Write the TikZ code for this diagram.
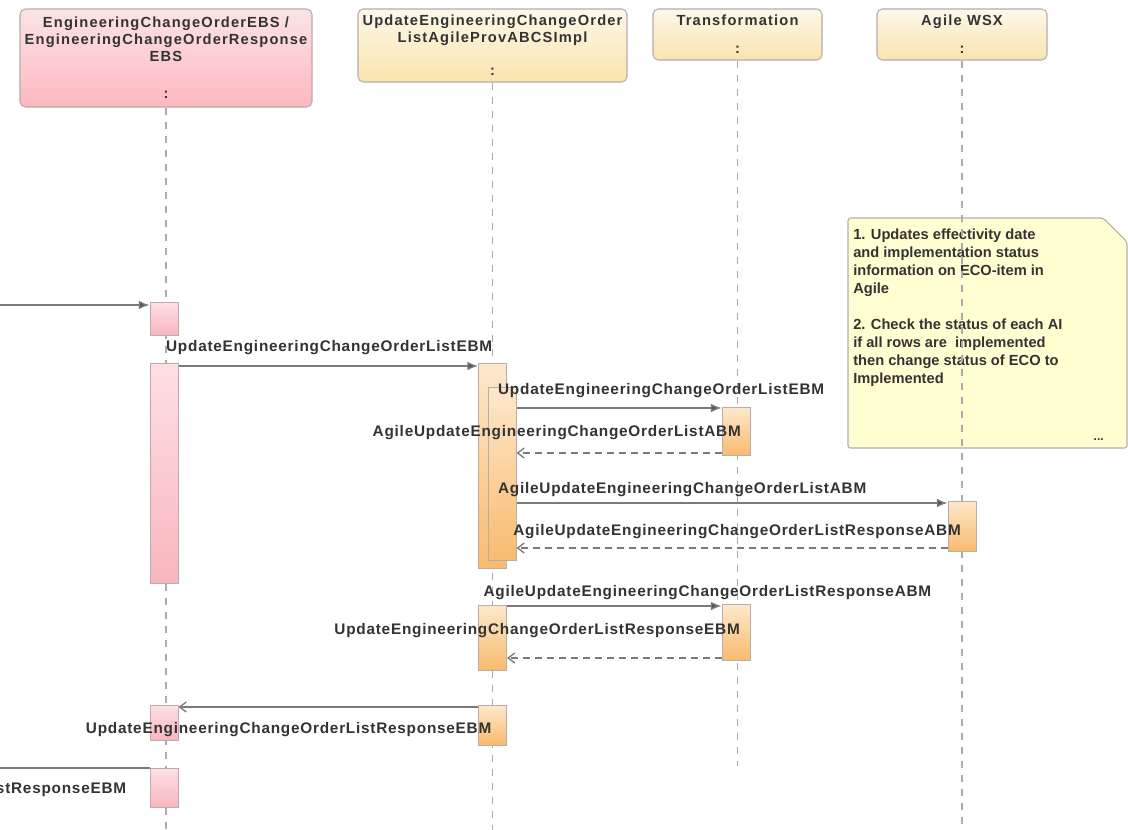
\documentclass[tikz,border=0pt]{standalone}
\usepackage{fontspec}
\setmainfont{Liberation Sans}
\newfontfamily\hdrfont{Liberation Sans}[LetterSpace=8]
\newfontfamily\msgfont{Liberation Sans}[LetterSpace=5]
\usetikzlibrary{arrows.meta,positioning}

\definecolor{pinktop}{HTML}{FBE4E4}
\definecolor{pinkbot}{HTML}{FDB7C0}
\definecolor{yeltop}{HTML}{FDF8EA}
\definecolor{yelbot}{HTML}{FAE4AE}
\definecolor{pacttop}{HTML}{FDE0E4}
\definecolor{pactbot}{HTML}{F9B6BE}
\definecolor{oacttop}{HTML}{FDE8CC}
\definecolor{oactbot}{HTML}{F8BB6E}
\definecolor{notefill}{HTML}{FFFFD2}
\definecolor{boxgray}{HTML}{B8ACAC}
\definecolor{linegray}{HTML}{7A7A7A}
\definecolor{tipgray}{HTML}{555555}
\definecolor{lifegray}{HTML}{ABABAB}
\definecolor{txtgray}{HTML}{333333}

\begin{document}
\begin{tikzpicture}[x=0.75pt,y=-0.75pt,
    head/.style={draw=boxgray,line width=0.8pt,rounded corners=4pt,align=center,
                 font=\hdrfont\bfseries\fontsize{11}{12.75}\selectfont,text=txtgray,inner sep=0pt},
    pinkhead/.style={head,top color=pinktop,bottom color=pinkbot},
    yelhead/.style={head,top color=yeltop,bottom color=yelbot},
    act/.style={draw=boxgray,line width=0.75pt,minimum width=21pt,inner sep=0pt},
    pinkact/.style={act,top color=pacttop,bottom color=pactbot},
    orgact/.style={act,top color=oacttop,bottom color=oactbot},
    life/.style={draw=lifegray,line width=0.8pt,dash pattern=on 5.5pt off 5pt},
    msg/.style={font=\msgfont\bfseries\fontsize{11.5}{13}\selectfont,text=txtgray,inner sep=0pt},
    sync/.style={color=linegray,line width=1pt,-{Latex[length=8pt,width=6.5pt,fill=tipgray]}},
    reply/.style={color=linegray,line width=1pt,dash pattern=on 5pt off 4pt,
                  -{Straight Barb[length=5pt,width=7.5pt]}},
    back/.style={color=linegray,line width=1pt,-{Straight Barb[length=5pt,width=7.5pt]}}]

  \useasboundingbox[fill=white] (0,0) rectangle (1128,829);
  \clip (0,0) rectangle (1128,829);

  % lifeline heads
  \node[pinkhead,minimum width=292*0.75pt,minimum height=98*0.75pt] (H1) at (166,58)
       {EngineeringChangeOrderEBS /\\EngineeringChangeOrderResponse\\EBS\\[15pt]:};
  \node[yelhead,minimum width=269*0.75pt,minimum height=73*0.75pt] (H2) at (492.5,45.5)
       {UpdateEngineeringChangeOrder\\ListAgileProvABCSImpl\\[12pt]:};
  \node[yelhead,minimum width=169*0.75pt,minimum height=51*0.75pt] (H3) at (737.5,34.5)
       {Transformation\\[8pt]:};
  \node[yelhead,minimum width=170*0.75pt,minimum height=51*0.75pt] (H4) at (962,34.5)
       {Agile WSX\\[8pt]:};

  % note
  \draw[draw=boxgray,line width=0.8pt,fill=notefill,rounded corners=2pt]
       (848,218) -- (1103,218) -- (1127,242) -- (1127,448) -- (848,448) -- cycle;
  \node[anchor=north west,align=left,inner sep=0pt,text=txtgray,
        font=\bfseries\fontsize{11}{13.5}\selectfont] (N1) at (853,229)
       {1. Updates effectivity date\\and implementation status\\information on ECO-item in\\Agile\\[13.5pt]
        2. Check the status of each AI\\if all rows are\ \ implemented\\then change status of ECO to\\Implemented};
  \node[anchor=east,inner sep=0pt,text=txtgray,font=\bfseries\fontsize{9}{10}\selectfont] (N2) at (1104,440) {...};

  % lifelines
  \draw[life] (H1.south) -- ++(0,722);
  \draw[life] (H2.south) -- ++(0,747);
  \draw[life] (H3.south) -- ++(0,705);
  \draw[life] (H4.south) -- ++(0,769);

  % activations
  \node[pinkact,minimum height=33*0.75pt]  (A1) at (164,318.5) {};
  \node[pinkact,minimum height=220*0.75pt] (A2) at (164,473)   {};
  \node[pinkact,minimum height=35*0.75pt]  (A3) at (164,722.5) {};
  \node[pinkact,minimum height=39*0.75pt]  (A4) at (164,787.5) {};
  \node[orgact,minimum height=205*0.75pt]  (B1) at (492.5,465.5) {};
  \node[orgact,minimum height=173*0.75pt]  (B2) at (502,473.5)   {};
  \node[orgact,minimum height=65*0.75pt]   (B3) at (492.5,637.5) {};
  \node[orgact,minimum height=40*0.75pt]   (B4) at (492.5,725)   {};
  \node[orgact,minimum height=48*0.75pt]   (C1) at (736,431)     {};
  \node[orgact,minimum height=56*0.75pt]   (C2) at (736,632.5)   {};
  \node[orgact,minimum height=50*0.75pt]   (D1) at (962,526)     {};

  \coordinate (in0)  at (-30,305);
  \coordinate (out0) at (-30,768);

  % messages
  \path[sync]
     (in0) edge (A1.west |- in0)
     (A2.east |- 0,366) edge node[msg,pos=0,anchor=south west,xshift=-9.75pt,yshift=8pt]
        {UpdateEngineeringChangeOrderListEBM} (B1.west |- 0,366)
     (B2.east |- 0,408) edge node[msg,pos=0,anchor=south west,xshift=-14.25pt,yshift=7.5pt]
        {UpdateEngineeringChangeOrderListEBM} (C1.west |- 0,408)
     (B2.east |- 0,503) edge node[msg,pos=0,anchor=south west,xshift=-14.25pt,yshift=4.5pt]
        {AgileUpdateEngineeringChangeOrderListABM} (D1.west |- 0,503)
     (B3.east |- 0,606) edge node[msg,pos=0,anchor=south west,xshift=-18pt,yshift=4.5pt]
        {AgileUpdateEngineeringChangeOrderListResponseABM} (C2.west |- 0,606);

  \path[reply]
     (C1.west |- 0,453) edge node[msg,pos=0,anchor=south east,xshift=15pt,yshift=9.75pt]
        {AgileUpdateEngineeringChangeOrderListABM} (B2.east |- 0,453)
     (D1.west |- 0,548) edge node[msg,pos=0,anchor=south east,xshift=10.5pt,yshift=6.75pt]
        {AgileUpdateEngineeringChangeOrderListResponseABM} (B2.east |- 0,548)
     (C2.west |- 0,658) edge node[msg,pos=0,anchor=south east,xshift=14.25pt,yshift=15pt]
        {UpdateEngineeringChangeOrderListResponseEBM} (B3.east |- 0,658);

  \path[back]
     (B4.west |- 0,707) edge node[msg,pos=0,anchor=north east,xshift=10.5pt,yshift=-11pt]
        {UpdateEngineeringChangeOrderListResponseEBM} (A3.east |- 0,707)
     (A4.west |- out0) edge node[msg,pos=0,anchor=north east,xshift=-17pt,yshift=-10.5pt]
        {UpdateEngineeringChangeOrderListResponseEBM} (out0);
\end{tikzpicture}
\end{document}
